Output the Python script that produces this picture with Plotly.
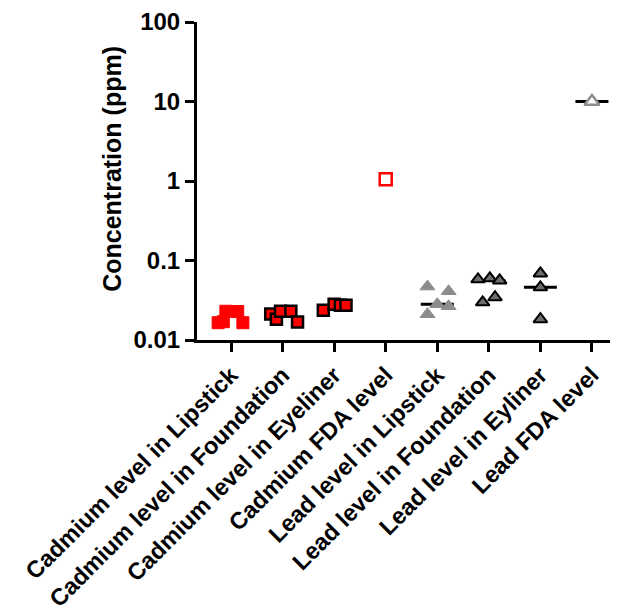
import plotly.graph_objects as go
import numpy as np

categories = ["Cadmium level in Lipstick", "Cadmium level in Foundation",
              "Cadmium level in Eyeliner", "Cadmium FDA level",
              "Lead level in Lipstick", "Lead level in Foundation",
              "Lead level in Eyliner", "Lead FDA level"]

cd_lipstick = [0.0165, 0.0170, 0.0230, 0.0228, 0.0165]
cd_lipstick_jit = [-0.25, -0.15, -0.10, 0.13, 0.23]
cd_foundation = [0.0212, 0.0183, 0.0230, 0.0230, 0.0168]
cd_foundation_jit = [-0.23, -0.12, -0.04, 0.16, 0.29]
cd_eyeliner = [0.0237, 0.0282, 0.0274, 0.0274]
cd_eyeliner_jit = [-0.21, 0.0, 0.12, 0.23]
cd_fda = [1.05]
pb_lipstick = [0.047, 0.041, 0.0282, 0.0266, 0.0211]
pb_lipstick_jit = [-0.19, 0.22, 0.0, 0.22, -0.19]
pb_foundation = [0.058, 0.0596, 0.0562, 0.0298, 0.0345]
pb_foundation_jit = [-0.21, 0.02, 0.21, -0.12, 0.12]
pb_eyeliner = [0.0688, 0.046, 0.0183]
pb_eyeliner_jit = [0.0, 0.0, 0.0]
pb_fda = [10.0]

ytick_vals = [0.01, 0.1, 1, 10, 100]
ytick_text = ["0.01", "0.1", "1", "10", "100"]
y_title = "Concentration (ppm)"

FONT = "Liberation Sans"
fig = go.Figure()

# median lines for lead groups
med_groups = [(4, pb_lipstick), (5, pb_foundation), (6, pb_eyeliner), (7, pb_fda)]
for idx, vals in med_groups:
    m = float(np.median(vals))
    fig.add_trace(go.Scatter(x=[idx - 0.32, idx + 0.32], y=[m, m], mode="lines",
                             line=dict(color="black", width=3), showlegend=False,
                             hoverinfo="skip"))

def pts(idx, vals, jit, **mk):
    fig.add_trace(go.Scatter(x=[idx + j for j in jit], y=vals, mode="markers",
                             marker=mk, showlegend=False))

pts(0, cd_lipstick, cd_lipstick_jit, symbol="square", size=12, color="#ff0000",
    line=dict(color="#ff0000", width=1))
pts(1, cd_foundation, cd_foundation_jit, symbol="square", size=11, color="#ff0000",
    line=dict(color="black", width=2.5))
pts(2, cd_eyeliner, cd_eyeliner_jit, symbol="square", size=11, color="#ff0000",
    line=dict(color="black", width=2.5))
pts(3, cd_fda, [0.0], symbol="square", size=12, color="white",
    line=dict(color="#ff0000", width=2.5))
pts(4, pb_lipstick, pb_lipstick_jit, symbol="triangle-up", size=13, color="#8c8c8c",
    line=dict(color="#8c8c8c", width=1))
pts(5, pb_foundation, pb_foundation_jit, symbol="triangle-up", size=12, color="#6e6e6e",
    line=dict(color="black", width=2))
pts(6, pb_eyeliner, pb_eyeliner_jit, symbol="triangle-up", size=12, color="#6e6e6e",
    line=dict(color="black", width=2))
pts(7, pb_fda, [0.0], symbol="triangle-up", size=13, color="white",
    line=dict(color="#8c8c8c", width=2.5))

fig.update_layout(
    width=629, height=613,
    margin=dict(l=197, r=19, t=22, b=273),
    plot_bgcolor="white", paper_bgcolor="white",
    font=dict(family=FONT, color="black"),
    annotations=[dict(text=y_title, xref="paper", yref="paper", x=-0.206, y=0.538,
                      xanchor="center", yanchor="middle", textangle=-90,
                      showarrow=False,
                      font=dict(family=FONT, size=25, color="black", weight="bold"))],
)
fig.update_xaxes(
    range=[-0.66, 7.35], tickvals=list(range(len(categories))), ticktext=categories,
    tickangle=-45, showline=True, linecolor="black", linewidth=3,
    ticks="outside", ticklen=9, tickwidth=3, tickcolor="black",
    showgrid=False, zeroline=False, automargin=False,
    tickfont=dict(family=FONT, size=23.5, color="black", weight="bold"),
)
fig.update_yaxes(
    type="log", range=[-2, 2], tickvals=ytick_vals, ticktext=ytick_text,
    showline=True, linecolor="black", linewidth=3,
    ticks="outside", ticklen=9, tickwidth=3, tickcolor="black",
    showgrid=False, zeroline=False, automargin=False,
    tickfont=dict(family=FONT, size=24, color="black", weight="bold"),
)

fig.write_html("out.html", config={"displayModeBar": False},
               post_script="document.body.style.margin='0';")
